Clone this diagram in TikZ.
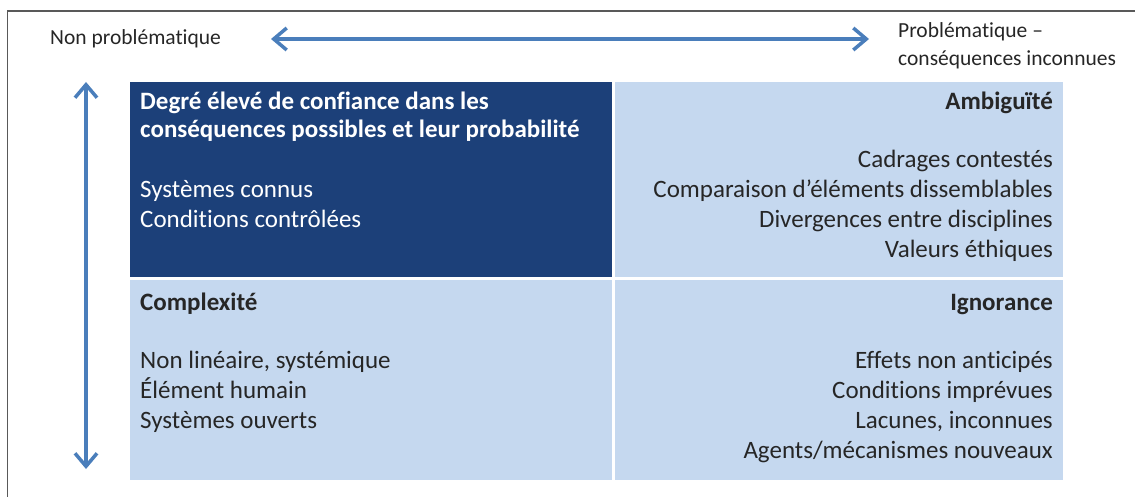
\documentclass[tikz,border=0pt]{standalone}
\usepackage{fontspec}
\setmainfont{Carlito}[Ligatures=NoCommon]
\usetikzlibrary{arrows.meta}
\definecolor{darkcell}{HTML}{1C4079}
\definecolor{lightcell}{HTML}{C5D8EF}
\definecolor{arrowblue}{HTML}{4A7EBB}
\definecolor{txt}{HTML}{262626}
\tikzset{
  lbl/.style={inner sep=0pt, font=\fontsize{25}{30}\selectfont, text=txt},
  hdr/.style={lbl, font=\fontsize{25}{30}\selectfont\bfseries},
  axlbl/.style={inner sep=0pt, font=\fontsize{21.5}{28}\selectfont, text=txt},
  axis/.style={arrowblue, line width=3.5pt, {Straight Barb[length=13pt,width=22pt,line width=3.5pt]}-{Straight Barb[length=13pt,width=22pt,line width=3.5pt]}},
}
\begin{document}
\begin{tikzpicture}[x=1pt,y=-1pt]
\useasboundingbox (0,0) rectangle (1135,497);
% frame
\draw[gray!70!black, line width=1.8pt] (7.5,497) -- (7.5,11) -- (1135,11);
% cells
\fill[darkcell] (130,82) rectangle (612,277);
\fill[lightcell] (615,82) rectangle (1063,277);
\fill[lightcell] (130,280) rectangle (612,480);
\fill[lightcell] (615,280) rectangle (1063,480);
% axis labels
\node[axlbl, anchor=base west] (np) at (50,45) {Non problématique};
\node[axlbl, anchor=base west] (pr1) at (898,38) {Problématique –};
\node[axlbl, anchor=base west] (pr2) at (898,66) {conséquences inconnues};
% arrows
\coordinate (hl) at (271,39);
\coordinate (hr) at (869,39);
\coordinate (vt) at (86,82);
\coordinate (vb) at (86,469);
\draw[axis] (hl) -- (hr);
\draw[axis] (vt) -- (vb);
% top-left
\node[hdr, anchor=base west, text=white] (tl1) at (140,110) {Degré élevé de confiance dans les};
\node[hdr, anchor=base west, text=white] (tl2) at (140,138) {conséquences possibles et leur probabilité};
\node[lbl, anchor=base west, text=white] (tl3) at (140,198) {Systèmes connus};
\node[lbl, anchor=base west, text=white] (tl4) at (140,228) {Conditions contrôlées};
% top-right
\node[hdr, anchor=base east] (tr1) at (1053,110) {Ambiguïté};
\node[lbl, anchor=base east] (tr2) at (1053,168) {Cadrages contestés};
\node[lbl, anchor=base east] (tr3) at (1053,198) {Comparaison d’éléments dissemblables};
\node[lbl, anchor=base east] (tr4) at (1053,228) {Divergences entre disciplines};
\node[lbl, anchor=base east] (tr5) at (1053,258) {Valeurs éthiques};
% bottom-left
\node[hdr, anchor=base west] (bl1) at (140,310) {Complexité};
\node[lbl, anchor=base west] (bl2) at (140,368) {Non linéaire, systémique};
\node[lbl, anchor=base west] (bl3) at (140,398) {Élément humain};
\node[lbl, anchor=base west] (bl4) at (140,428) {Systèmes ouverts};
% bottom-right
\node[hdr, anchor=base east] (br1) at (1053,310) {Ignorance};
\node[lbl, anchor=base east] (br2) at (1053,368) {Effets non anticipés};
\node[lbl, anchor=base east] (br3) at (1053,398) {Conditions imprévues};
\node[lbl, anchor=base east] (br4) at (1053,428) {Lacunes, inconnues};
\node[lbl, anchor=base east] (br5) at (1053,458) {Agents/mécanismes nouveaux};
\end{tikzpicture}
\end{document}
